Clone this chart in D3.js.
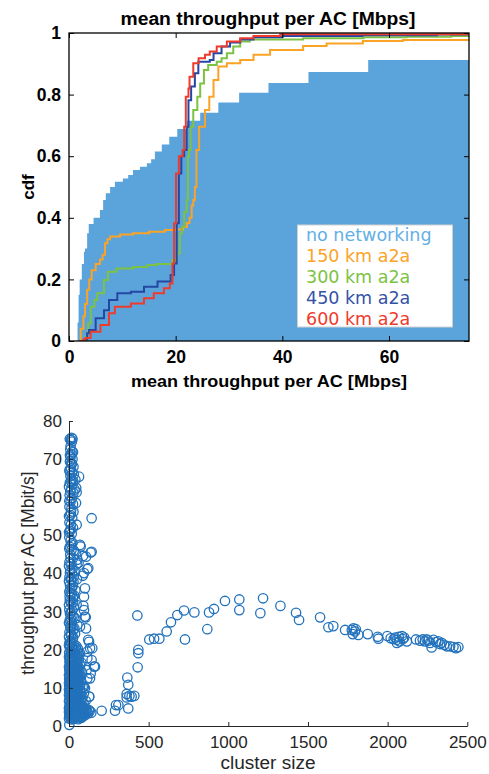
<!DOCTYPE html>
<html>
<head>
<meta charset="utf-8">
<script src="https://cdn.jsdelivr.net/npm/d3@7"></script>
<style>
  body { margin: 0; background: #fff; }
  text { font-family: "Liberation Sans", Arial, sans-serif; }
</style>
</head>
<body>
<svg id="chart" width="489" height="774"></svg>
<script>
// ---------- CDF panel data: [throughput Mbps, cumulative fraction] ----------
const noNetworkingCdf = [[1.5,0],[1.6,0.06],[1.8,0.15],[2.0,0.2],[2.4,0.25],[2.8,0.29],[3.0,0.3],[3.4,0.35],[3.7,0.38],[4.6,0.40],[5.8,0.425],[6.4,0.458],[6.9,0.48],[7.7,0.50],[8.6,0.517],[10.1,0.528],[11.1,0.539],[12.0,0.555],[13.3,0.566],[14.6,0.577],[15.4,0.59],[16.1,0.615],[17.4,0.638],[18.8,0.663],[20.3,0.688],[22.1,0.715],[24.6,0.741],[28.0,0.774],[31.9,0.806],[37.4,0.838],[44.9,0.873],[56.1,0.912],[75,0.912]];
const a2a150Cdf = [[1.75,0],[2.2,0.04],[2.7,0.08],[3.0,0.12],[3.4,0.166],[3.8,0.2],[4.25,0.23],[5.0,0.25],[5.8,0.265],[6.3,0.28],[6.75,0.317],[7.2,0.33],[7.7,0.339],[9.6,0.346],[12,0.35],[15,0.355],[18,0.36],[19.9,0.362],[21.4,0.37],[22.1,0.383],[22.6,0.4],[23.0,0.44],[23.3,0.458],[23.6,0.5],[23.9,0.62],[24.4,0.696],[25.5,0.75],[26.3,0.793],[27.1,0.847],[28.0,0.891],[29.6,0.902],[32.1,0.912],[34.6,0.929],[37.7,0.945],[43.9,0.958],[48.3,0.966],[55.1,0.974],[62.6,0.977],[75,0.98]];
const a2a300Cdf = [[2.06,0],[2.8,0.005],[3.1,0.014],[3.4,0.025],[3.6,0.057],[4.06,0.111],[4.75,0.133],[5.3,0.155],[6.56,0.198],[7.3,0.225],[8.9,0.235],[12,0.24],[14.7,0.247],[16.4,0.25],[19.4,0.263],[20.3,0.285],[20.8,0.35],[21.2,0.371],[21.6,0.42],[22.06,0.458],[22.3,0.598],[22.5,0.62],[22.8,0.696],[23.3,0.75],[24.06,0.793],[24.6,0.836],[25.3,0.88],[26.1,0.896],[27.7,0.907],[28.6,0.918],[29.6,0.934],[30.8,0.956],[32.1,0.972],[33.9,0.979],[43.9,0.983],[55.2,0.986],[63.3,0.988],[71.7,0.99],[75,0.992]];
const a2a450Cdf = [[2.4,0],[2.8,0.005],[3.4,0.025],[3.75,0.036],[5.0,0.074],[6.56,0.1],[7.5,0.133],[9.06,0.155],[11.6,0.16],[14.06,0.176],[16.6,0.193],[19.06,0.214],[19.7,0.252],[20.2,0.382],[20.6,0.544],[21.06,0.6],[21.6,0.62],[22.06,0.696],[22.4,0.782],[22.9,0.826],[23.6,0.869],[24.25,0.907],[26.4,0.912],[27.1,0.934],[28.6,0.956],[30.2,0.969],[32.1,0.979],[34.6,0.986],[40,0.99],[55,0.993],[69,0.995],[75,0.995]];
const a2a600Cdf = [[1.9,0],[2.75,0.005],[3.1,0.01],[4.06,0.03],[5.9,0.052],[7.5,0.09],[8.6,0.111],[11.6,0.122],[14.06,0.139],[15.9,0.155],[17.8,0.171],[18.9,0.187],[19.4,0.252],[19.7,0.382],[20.06,0.544],[20.6,0.6],[21.3,0.62],[21.6,0.696],[21.9,0.793],[22.4,0.82],[22.6,0.858],[23.3,0.902],[24.3,0.918],[25.5,0.929],[26.4,0.94],[27.7,0.956],[29.6,0.972],[32.1,0.983],[34.6,0.99],[39.6,0.996],[75,0.997]];

const legendNames = ["no networking", "150 km a2a", "300 km a2a", "450 km a2a", "600 km a2a"];
const cdfTicks = [0, 0.2, 0.4, 0.6, 0.8, 1];
const cdfTickLabels = ["0", "0.2", "0.4", "0.6", "0.8", "1"];
const meanTputTicks = [0, 20, 40, 60];

// ---------- scatter panel data: [cluster size, throughput per AC] ----------
const smallClusterHigh = [[5,75.3],[22,75.3],[12,75.0],[18,74.6],[8,72.5],[20,72.0],[15,71.3],[25,71.8],[10,70.6],[22,70.0],[6,69.4],[18,68.8],[28,68.0],[12,67.5],[3,66.8],[20,66.5],[30,66.0],[9,65.6],[16,64.8],[26,64.2],[40,64.6],[5,63.8],[22,63.4],[63,65.4],[45,62.4],[35,62.0],[14,62.0],[28,61.2],[4,60.5],[18,59.8],[48,61.3],[10,58.9],[25,58.2],[44,58.5],[3,57.5],[15,57.0],[28,56.2],[8,55.3],[20,54.6],[142,54.5],[3,53.4],[12,52.8],[48,52.8],[25,52.0],[6,51.2],[17,50.4],[2,49.5],[10,48.6],[22,48.0],[69,47.5],[73,47.1],[5,47.0],[16,46.2],[30,46.0],[142,45.7],[136,45.5],[45,45.2],[8,45.0],[88,44.6],[107,44.4],[25,44.0],[52,43.6],[3,43.0],[60,42.8],[15,42.5],[48,42.4],[121,41.4],[115,41.2],[8,41.0],[35,40.6],[94,40.1],[20,39.8],[86,39.4],[3,39.0],[12,38.5],[50,38.5],[28,37.8],[6,37.0],[100,36.1],[18,36.2],[40,35.6],[2,35.2],[10,34.8],[94,33.9],[25,33.6],[5,33.0],[48,31.8],[90,31.5],[15,32.2],[30,31.0],[2,30.5],[94,30.4],[12,29.6],[22,29.0],[100,28.7],[105,28.5],[40,28.2],[5,27.8],[18,27.0],[52,26.5],[69,26.1],[107,25.6],[10,25.8],[28,25.2],[3,24.6],[38,24.2],[15,23.8],[121,22.6],[126,22.1],[22,22.8],[6,22.4],
  [0,23.4],[12,24.1],[26,23.2],[8,26.3],[22,26.0],[34,25.6],[0,27.0],[14,28.0],[30,28.6],[6,29.5],[20,30.3],[0,31.8],[10,32.6],[26,32.4],[4,34.0],[18,34.6],[32,34.2],[8,36.0],[24,36.8],[0,38.0],[16,38.3],[30,39.2],[6,40.2],[22,41.3],[0,42.0],[10,44.0],[2,46.5],[14,47.6],[0,50.8],[10,51.6],[0,55.0],[12,56.0],[2,59.0],[8,61.5],[0,62.8],[12,64.2],[4,67.2],[14,69.0],[6,71.0],[10,73.4],[16,75.6]];
const smallClusterLow = [[2,21.6],[14,22.0],[30,21.4],[45,21.0],[6,20.4],[20,20.1],[38,19.8],[55,20.3],[1,19.2],[12,18.9],[28,19.3],[48,18.6],[70,19.0],[8,18.0],[22,17.6],[40,17.9],[60,17.4],[3,16.8],[16,16.5],[32,16.9],[52,16.2],[78,16.6],[10,15.7],[25,15.4],[45,15.8],[65,15.1],[2,14.6],[18,14.3],[36,14.8],[58,14.4],[82,14.0],[8,13.6],[28,13.2],[48,13.5],[70,13.1],[1,12.4],[15,12.7],[38,12.2],[60,12.6],[6,11.6],[24,11.3],[45,11.8],[75,11.5],[2,10.5],[14,10.8],[33,10.4],[55,10.7],[86,10.2],[9,9.6],[26,9.3],[44,9.8],[68,9.4],[3,8.7],[18,8.4],[36,8.9],[58,8.2],[94,8.6],[10,7.7],[28,7.4],[48,7.8],[78,7.3],[2,6.8],[20,6.5],[40,6.9],[62,6.3],[105,6.6],[8,5.8],[30,5.5],[52,5.9],[85,5.4],[1,4.9],[16,4.6],[38,4.8],[70,4.4],[98,4.7],[125,4.2],[6,4.0],[25,3.7],[48,3.9],[80,3.6],[110,3.8],[140,3.5],[2,3.1],[18,2.8],[35,3.2],[60,2.9],[92,3.0],[120,3.3],[8,2.2],[28,1.9],[50,2.4],[75,2.1],[2,0.3],
  [4,21.0],[22,20.7],[40,20.6],[10,19.6],[34,18.8],[56,18.3],[4,17.6],[18,17.2],[46,17.0],[12,16.0],[35,15.9],[54,15.6],[6,15.0],[26,14.9],[44,14.2],[14,13.9],[36,13.7],[58,13.8],[4,13.0],[24,12.6],[50,12.9],[12,11.9],[34,11.6],[62,11.2],[6,11.1],[22,10.1],[40,10.9],[16,9.9],[36,9.5],[54,9.1],[6,9.2],[26,8.6],[46,8.1],[12,8.0],[38,7.6],[66,7.9],[8,7.2],[30,6.9],[52,6.6],[14,6.2],[40,5.9],[70,5.8],[4,5.4],[24,5.1],[56,5.2],[84,4.9],[10,4.4],[34,4.3],[64,4.0],[14,3.4],[44,3.5],[74,3.2],[104,3.3],[4,2.6],[24,2.4],[40,2.7],[62,2.3],[88,2.6],
  [0,21.2],[8,20.9],[26,20.0],[48,19.9],[16,19.0],[40,18.5],[62,18.9],[0,18.1],[28,17.9],[52,17.7],[8,16.9],[24,16.1],[42,16.4],[68,16.0],[0,15.5],[20,15.1],[50,14.8],[72,14.6],[10,14.3],[32,14.0],[54,13.2],[0,13.4],[20,13.0],[42,12.9],[66,12.3],[10,12.1],[30,12.0],[52,11.5],[0,11.3],[18,11.0],[46,10.5],[70,10.6],[28,10.2],[60,9.9],[0,9.6],[12,9.3],[32,9.1],[50,8.7],[74,8.9],[0,8.1],[20,7.9],[42,7.3],[58,7.1],[86,7.6],[0,6.5],[24,6.1],[46,6.3],[76,6.8],[92,5.9],[12,5.6],[36,5.2],[62,5.0],[0,4.6],[20,4.2],[44,4.4],[76,4.8],[108,4.5],[130,3.9],[0,3.7],[30,3.5],[54,3.4],[86,3.9],[96,3.4],[10,2.9],[46,3.0],[70,2.7],[100,2.8],[0,2.0],[18,1.7],[38,2.1],[58,1.8],[82,2.3],
  [146,20.4],[115,19.5],[157,15.6],[136,13.8],[115,12.5],[126,7.7],[94,10.3],[132,20.4],[115,17.8],[142,17.3],[111,14.7],[163,15.6],[132,12.5],[127,7.7],[100,9.9],[90,4.2],[115,3.6]];
const largeClusters = [[205,4.0],[289,4.0],[295,5.5],[310,5.5],[372,4.6],[366,12.7],[372,10.8],[362,8.4],[379,7.9],[393,7.7],[410,7.9],[362,7.5],[431,15.4],[435,19.1],[435,20.0],[429,29.0],[504,22.7],[534,22.9],[567,22.9],[613,24.8],[640,27.2],[680,29.1],[722,30.3],[728,22.7],[787,29.8],[868,25.4],[879,29.8],[910,30.7],[979,32.8],[1069,33.2],[1069,30.4],[1201,29.6],[1218,33.5],[1327,31.5],[1425,29.7],[1444,27.8],[1576,28.5],[1628,25.9],[1659,26.2],[1733,25.2],[1775,25.2],[1785,25.6],[1795,24.8],[1800,25.4],[1781,24.1],[1816,23.9],[1875,24.1],[1938,23.4],[1942,22.9],[1998,23.6],[2019,23.0],[2038,22.8],[2048,23.2],[2058,22.6],[2069,23.4],[2075,22.2],[2090,23.6],[2096,22.8],[2104,23.2],[2121,22.2],[2058,21.8],[2178,22.7],[2203,22.4],[2220,22.7],[2234,22.2],[2245,22.7],[2255,22.4],[2266,21.8],[2276,20.6],[2287,22.6],[2304,22.0],[2318,22.2],[2329,21.5],[2339,21.8],[2354,21.3],[2371,20.9],[2392,20.9],[2413,20.7],[2429,20.4],[2444,20.7]];
const clusterTicks = [0, 500, 1000, 1500, 2000, 2500];
const tputTicks = [0, 10, 20, 30, 40, 50, 60, 70, 80];

const svg = d3.select("#chart");

// ================= upper panel: CDFs =================
const cdfBox = { left: 69, right: 469, top: 33, bottom: 341 };
const xT = d3.scaleLinear().domain([0, 75]).range([cdfBox.left, cdfBox.right]);
const yT = d3.scaleLinear().domain([0, 1]).range([cdfBox.bottom, cdfBox.top]);

svg.append("defs").append("clipPath").attr("id", "clipCdf")
  .append("rect").attr("x", cdfBox.left).attr("y", cdfBox.top - 2)
  .attr("width", cdfBox.right - cdfBox.left).attr("height", cdfBox.bottom - cdfBox.top + 2);

const gCdf = svg.append("g").attr("clip-path", "url(#clipCdf)");

gCdf.append("path")
  .datum(noNetworkingCdf)
  .attr("fill", "#5BA4DB")
  .attr("d", d3.area().curve(d3.curveStepAfter)
    .x(d => xT(d[0])).y0(yT(0)).y1(d => yT(d[1])));

const lineGen = d3.line().curve(d3.curveStepAfter).x(d => xT(d[0])).y(d => yT(d[1]));
const lineSeries = [
  { data: a2a150Cdf, color: "#FBA326" },
  { data: a2a300Cdf, color: "#7CC243" },
  { data: a2a450Cdf, color: "#2447A3" },
  { data: a2a600Cdf, color: "#EE3B2C" }
];
lineSeries.forEach(s => {
  gCdf.append("path").datum(s.data)
    .attr("fill", "none").attr("stroke", s.color).attr("stroke-width", 2)
    .attr("d", lineGen);
});

// axes box with inward ticks on all sides
function styleCdfAxis(g) {
  g.select(".domain").remove();
  g.selectAll(".tick line").attr("stroke", "#000").attr("stroke-width", 1);
  g.selectAll(".tick text").attr("fill", "#000")
    .style("font-weight", "bold").style("font-size", "17.5px")
    .style("font-family", "'Liberation Sans', Arial, sans-serif");
}
svg.append("g").attr("transform", `translate(0,${cdfBox.bottom})`)
  .call(d3.axisBottom(xT).tickValues(meanTputTicks).tickFormat(d3.format("d"))
    .tickSizeInner(-5).tickSizeOuter(0).tickPadding(10))
  .call(styleCdfAxis);
svg.append("g").attr("transform", `translate(0,${cdfBox.top})`)
  .call(d3.axisTop(xT).tickValues(meanTputTicks).tickFormat("")
    .tickSizeInner(-5).tickSizeOuter(0))
  .call(styleCdfAxis);
svg.append("g").attr("transform", `translate(${cdfBox.left},0)`)
  .call(d3.axisLeft(yT).tickValues(cdfTicks).tickFormat((d, i) => cdfTickLabels[i])
    .tickSizeInner(-5).tickSizeOuter(0).tickPadding(8))
  .call(styleCdfAxis);
svg.append("g").attr("transform", `translate(${cdfBox.right},0)`)
  .call(d3.axisRight(yT).tickValues(cdfTicks).tickFormat("")
    .tickSizeInner(-5).tickSizeOuter(0))
  .call(styleCdfAxis);
svg.append("rect")
  .attr("x", cdfBox.left).attr("y", cdfBox.top)
  .attr("width", cdfBox.right - cdfBox.left).attr("height", cdfBox.bottom - cdfBox.top)
  .attr("fill", "none").attr("stroke", "#000").attr("stroke-width", 1.3);

// legend
const legendColors = ["#63AFE4", "#FBA326", "#7CC243", "#3452A8", "#EE3B2C"];
const leg = svg.append("g");
leg.append("rect").attr("x", 297.5).attr("y", 225).attr("width", 155).attr("height", 102)
  .attr("fill", "#fff").attr("stroke", "#cfcfcf").attr("stroke-width", 1);
legendNames.forEach((name, i) => {
  leg.append("text")
    .attr("x", 306).attr("y", 235 + i * 21)
    .attr("dominant-baseline", "central")
    .style("font-family", "'DejaVu Sans', Verdana, sans-serif")
    .style("font-size", "17.5px")
    .attr("fill", legendColors[i])
    .text(name);
});

// titles
svg.append("text").attr("x", 268).attr("y", 25).attr("text-anchor", "middle")
  .attr("textLength", 295).attr("lengthAdjust", "spacingAndGlyphs")
  .style("font-weight", "bold").style("font-size", "18px").text("mean throughput per AC [Mbps]");
svg.append("text").attr("x", 269).attr("y", 387).attr("text-anchor", "middle")
  .attr("textLength", 276).attr("lengthAdjust", "spacingAndGlyphs")
  .style("font-weight", "bold").style("font-size", "17px").text("mean throughput per AC [Mbps]");
svg.append("text").attr("transform", "translate(34,187) rotate(-90)").attr("text-anchor", "middle")
  .style("font-weight", "bold").style("font-size", "17px").text("cdf");

// ================= lower panel: scatter =================
const scBox = { left: 69, right: 467.3, top: 421, bottom: 726 };
const xB = d3.scaleLinear().domain([0, 2500]).range([scBox.left, scBox.right]);
const yB = d3.scaleLinear().domain([0, 80]).range([scBox.bottom, scBox.top]);

function styleScAxis(g) {
  g.select(".domain").attr("stroke", "#262626").attr("stroke-width", 1);
  g.selectAll(".tick line").attr("stroke", "#262626");
  g.selectAll(".tick text").attr("fill", "#262626")
    .style("font-size", "17px")
    .style("font-family", "'Liberation Sans', Arial, sans-serif");
}

const allPoints = smallClusterHigh.concat(smallClusterLow, largeClusters);
svg.append("g").selectAll("circle").data(allPoints).join("circle")
  .attr("cx", d => xB(d[0])).attr("cy", d => yB(d[1])).attr("r", 4.7)
  .attr("fill", "none").attr("stroke", "#2272BC").attr("stroke-width", 1.3);

svg.append("g").attr("transform", `translate(0,${scBox.bottom})`)
  .call(d3.axisBottom(xB).tickValues(clusterTicks).tickFormat(d3.format("d"))
    .tickSizeInner(-4).tickSizeOuter(0).tickPadding(10))
  .call(styleScAxis);
svg.append("g").attr("transform", `translate(${scBox.left},0)`)
  .call(d3.axisLeft(yB).tickValues(tputTicks).tickFormat(d3.format("d"))
    .tickSizeInner(-4).tickSizeOuter(0).tickPadding(7))
  .call(styleScAxis);

svg.append("text").attr("x", 268).attr("y", 769).attr("text-anchor", "middle")
  .attr("textLength", 95).attr("lengthAdjust", "spacingAndGlyphs")
  .attr("fill", "#262626").style("font-size", "18px").text("cluster size");
svg.append("text").attr("transform", "translate(34,573) rotate(-90)").attr("text-anchor", "middle")
  .attr("fill", "#262626").style("font-size", "17.5px").text("throughput per AC [Mbit/s]");
</script>
</body>
</html>
